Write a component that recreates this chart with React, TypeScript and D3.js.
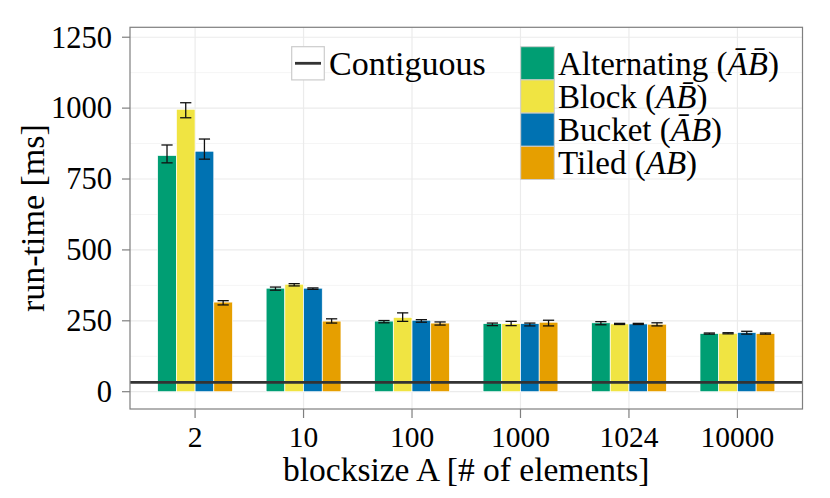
import React from "react";
import * as d3 from "d3";

const categories = ["2", "10", "100", "1000", "1024", "10000"];
const seriesNames = ["Alternating", "Block", "Bucket", "Tiled"];
const alternating = [833, 365, 249, 240, 243, 205];
const block = [996, 379, 262, 240, 239, 206];
const bucket = [848, 365, 252, 240, 239, 209];
const tiled = [316, 249, 242, 245, 238, 205];
const alternatingLo = [807, 358, 243, 233, 236, 203];
const alternatingHi = [870, 369, 251, 242, 247, 207];
const blockLo = [966, 373, 248, 233, 237, 204];
const blockHi = [1019, 381, 278, 248, 241, 208];
const bucketLo = [820, 361, 245, 232, 237, 203];
const bucketHi = [891, 366, 254, 242, 241, 213];
const tiledLo = [306, 242, 235, 232, 232, 203];
const tiledHi = [321, 257, 246, 252, 243, 207];
const contiguous = 33;
const yTicks = [0, 250, 500, 750, 1000, 1250];
const yMinor = [125, 375, 625, 875, 1125];
const colors = ["#009E73", "#F0E442", "#0072B2", "#E69F00"];
const legendMath = [
  ["A\u0304", "B\u0304"],
  ["A", "B\u0304"],
  ["A\u0304", "B"],
  ["A", "B"],
];

const values = [alternating, block, bucket, tiled];
const lows = [alternatingLo, blockLo, bucketLo, tiledLo];
const highs = [alternatingHi, blockHi, bucketHi, tiledHi];

const W = 830;
const H = 498;
const L = 130, R = 802.5, T = 27.3, B = 409;
const FONT = "'Liberation Serif', 'Times New Roman', serif";

export default function App() {
  const x = d3.scalePoint<string>().domain(categories).range([L, R]).padding(0.6);
  const step = x.step();
  const inner = d3.scaleBand<string>().domain(seriesNames).range([-0.345 * step, 0.345 * step]);
  const y = d3.scaleLinear().domain([-61, 1285]).range([B, T]);
  const bw = inner.bandwidth();
  const whisk = bw * 0.3;

  return (
    <svg width={W} height={H} style={{ position: "absolute", left: 0, top: 0, background: "#fff" }} fontFamily={FONT}>
      <rect x={0} y={0} width={W} height={H} fill="#fff" />
      <rect x={L} y={T} width={R - L} height={B - T} fill="#fff" />
      {yMinor.map((v) => (
        <line key={"mi" + v} x1={L} x2={R} y1={y(v)} y2={y(v)} stroke="#f5f5f5" strokeWidth={1} />
      ))}
      {yTicks.map((v) => (
        <line key={"ma" + v} x1={L} x2={R} y1={y(v)} y2={y(v)} stroke="#ebebeb" strokeWidth={1.2} />
      ))}
      {categories.map((c) => (
        <line key={"vx" + c} x1={x(c)!} x2={x(c)!} y1={T} y2={B} stroke="#ebebeb" strokeWidth={1.2} />
      ))}
      {values.map((vals, si) =>
        vals.map((v, ci) => (
          <rect
            key={`b${si}-${ci}`}
            x={x(categories[ci])! + inner(seriesNames[si])!}
            y={y(v)}
            width={bw}
            height={y(0) - y(v)}
            fill={colors[si]}
            stroke="#fff"
            strokeWidth={0.7}
          />
        ))
      )}
      {values.map((vals, si) =>
        vals.map((_, ci) => {
          const cx = x(categories[ci])! + inner(seriesNames[si])! + bw / 2;
          const lo = y(lows[si][ci]);
          const hi = y(highs[si][ci]);
          return (
            <g key={`e${si}-${ci}`} stroke="#111" strokeWidth={1.3} fill="none">
              <line x1={cx} x2={cx} y1={lo} y2={hi} />
              <line x1={cx - whisk} x2={cx + whisk} y1={lo} y2={lo} />
              <line x1={cx - whisk} x2={cx + whisk} y1={hi} y2={hi} />
            </g>
          );
        })
      )}
      <line x1={L} x2={R} y1={y(contiguous)} y2={y(contiguous)} stroke="#333" strokeWidth={2.8} />
      <rect x={L} y={T} width={R - L} height={B - T} fill="none" stroke="#7f7f7f" strokeWidth={1.2} />
      {yTicks.map((v) => (
        <g key={"yt" + v}>
          <line x1={L - 8} x2={L} y1={y(v)} y2={y(v)} stroke="#7f7f7f" strokeWidth={1.2} />
          <text x={112} y={y(v)} dy="0.34em" textAnchor="end" fontSize={30.5} fill="#000">
            {v}
          </text>
        </g>
      ))}
      {categories.map((c) => (
        <g key={"xt" + c}>
          <line x1={x(c)!} x2={x(c)!} y1={B} y2={B + 9} stroke="#7f7f7f" strokeWidth={1.2} />
          <text x={x(c)!} y={446.5} textAnchor="middle" fontSize={29.5} fill="#000">
            {c}
          </text>
        </g>
      ))}
      <text x={(L + R) / 2} y={481} textAnchor="middle" fontSize={33.5} fill="#000">
        blocksize A [# of elements]
      </text>
      <text transform={`translate(44,${(T + B) / 2}) rotate(-90)`} textAnchor="middle" fontSize={34} fill="#000">
        run-time [ms]
      </text>
      <rect x={291.7} y={46.7} width={32.6} height={33.2} fill="#fff" stroke="#cccccc" strokeWidth={1.2} />
      <line x1={295} x2={321} y1={63.3} y2={63.3} stroke="#333" strokeWidth={2.8} />
      <text x={329} y={75} fontSize={34} fill="#000">
        Contiguous
      </text>
      {seriesNames.map((s, i) => (
        <g key={"lg" + s}>
          <rect x={520.7} y={46.7 + i * 33.2} width={33.6} height={33.2} fill={colors[i]} stroke="#cccccc" strokeWidth={1} />
          <text x={558} y={74.5 + i * 33.2} fontSize={33} fill="#000">
            {s + " ("}
            <tspan fontStyle="italic">{legendMath[i][0]}</tspan>
            <tspan fontStyle="italic">{legendMath[i][1]}</tspan>
            {")"}
          </text>
        </g>
      ))}
    </svg>
  );
}
